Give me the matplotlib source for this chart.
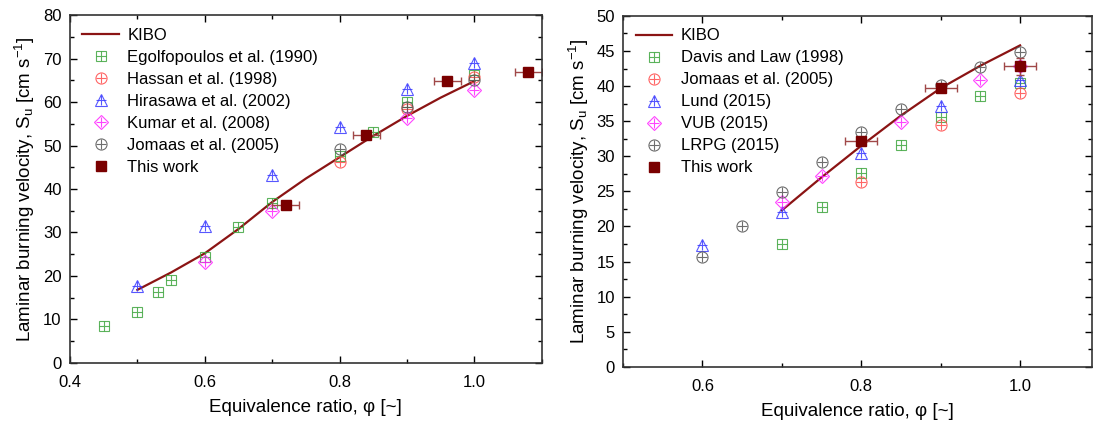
import matplotlib
matplotlib.use("Agg")
import matplotlib.pyplot as plt
from matplotlib.ticker import MultipleLocator
from matplotlib.legend_handler import HandlerTuple

plt.rcParams['font.family'] = ['Liberation Sans', 'DejaVu Sans']
plt.rcParams['mathtext.fontset'] = 'custom'
plt.rcParams['mathtext.rm'] = 'Liberation Sans'
plt.rcParams['mathtext.it'] = 'Liberation Sans'

# ---- left panel data ----
kibo_l_x = [0.50, 0.55, 0.60, 0.65, 0.70, 0.75, 0.80, 0.85, 0.90, 0.95, 1.00]
kibo_l_y = [16.8, 20.8, 25.2, 30.8, 37.0, 42.4, 47.3, 52.2, 56.8, 61.0, 64.8]

egol_x = [0.45, 0.50, 0.53, 0.55, 0.60, 0.65, 0.70, 0.80, 0.85, 0.90, 1.00]
egol_y = [8.5, 11.8, 16.4, 19.1, 24.3, 31.3, 36.7, 47.7, 53.2, 60.0, 66.2]
hassan_x = [0.80, 0.90, 1.00]
hassan_y = [46.2, 58.3, 65.8]
hira_x = [0.50, 0.60, 0.70, 0.80, 0.90, 1.00]
hira_y = [17.7, 31.5, 43.2, 54.3, 62.9, 69.0]
kumar_x = [0.60, 0.70, 0.90, 1.00]
kumar_y = [23.1, 35.0, 56.4, 62.8]
jomaas_l_x = [0.80, 0.90, 1.00]
jomaas_l_y = [49.1, 58.8, 65.0]
work_l_x = [0.72, 0.84, 0.96, 1.08]
work_l_y = [36.4, 52.5, 64.8, 66.8]
work_l_xerr = [0.02, 0.02, 0.02, 0.02]

# ---- right panel data ----
kibo_r_x = [0.70, 0.75, 0.80, 0.85, 0.90, 0.95, 1.00]
kibo_r_y = [22.3, 27.0, 31.5, 35.8, 39.7, 42.9, 45.8]

davis_x = [0.70, 0.75, 0.80, 0.85, 0.90, 0.95, 1.00]
davis_y = [17.5, 22.8, 27.6, 31.6, 35.6, 38.6, 40.4]
jomaas_r_x = [0.80, 0.90, 1.00]
jomaas_r_y = [26.4, 34.5, 39.0]
lund_x = [0.60, 0.70, 0.80, 0.90, 1.00]
lund_y = [17.3, 22.0, 30.4, 37.1, 40.9]
vub_x = [0.70, 0.75, 0.85, 0.95, 1.00]
vub_y = [23.5, 27.2, 34.9, 40.8, 42.8]
lrpg_x = [0.60, 0.65, 0.70, 0.75, 0.80, 0.85, 0.90, 0.95, 1.00]
lrpg_y = [15.7, 20.0, 24.9, 29.2, 33.5, 36.7, 40.2, 42.7, 44.9]
work_r_x = [0.80, 0.90, 1.00]
work_r_y = [32.2, 39.7, 42.8]
work_r_xerr = [0.02, 0.02, 0.02]
work_r_yerr = [0.0, 0.0, 1.2]

C_GREEN = '#3fa63f'
C_RED = '#ff4a4a'
C_BLUE = '#3a3aff'
C_MAG = '#ff22ff'
C_GRAY = '#555555'
C_DARK = '#7a0000'
C_LINE = '#8b1414'


def crossed(ax, x, y, marker, color, size=8):
    a, = ax.plot(x, y, linestyle='none', marker=marker, ms=size, mfc='none',
                 mec=color, mew=0.8, alpha=0.85)
    b, = ax.plot(x, y, linestyle='none', marker='+', ms=size * 0.95,
                 mec=color, mew=0.8, alpha=0.85)
    return (a, b)


def style(ax):
    ax.tick_params(which='both', direction='in', top=True, right=True,
                   labelsize=12)
    ax.tick_params(axis='x', which='major', pad=9)
    ax.tick_params(axis='y', which='major', pad=6)
    ax.tick_params(which='major', length=5, width=1)
    ax.tick_params(which='minor', length=3, width=1)
    for s in ax.spines.values():
        s.set_linewidth(1.2)
        s.set_color('#333333')
    ax.set_xlabel('Equivalence ratio, φ [~]', fontsize=13.5, labelpad=6)
    ax.set_ylabel('Laminar burning velocity, S$_\\mathrm{u}$ [cm s$^{-1}$]',
                  fontsize=13.5, labelpad=4)


fig = plt.figure(figsize=(10.97, 4.30), dpi=100)
ax1 = fig.add_axes([0.0638, 0.156, 0.430, 0.809])
ax2 = fig.add_axes([0.568, 0.147, 0.427, 0.816])

leg_kw = dict(handler_map={tuple: HandlerTuple(ndivide=1)},
              loc='upper left', frameon=False, fontsize=12, handlelength=2.2,
              handletextpad=0.5, labelspacing=0.42, borderaxespad=0.35)

# left
l1, = ax1.plot(kibo_l_x, kibo_l_y, color=C_LINE, lw=1.6)
h_eg = crossed(ax1, egol_x, egol_y, 's', C_GREEN, 7)
h_ha = crossed(ax1, hassan_x, hassan_y, 'o', C_RED)
h_hi = crossed(ax1, hira_x, hira_y, '^', C_BLUE)
h_ku = crossed(ax1, kumar_x, kumar_y, 'D', C_MAG, 7)
h_jo = crossed(ax1, jomaas_l_x, jomaas_l_y, 'o', C_GRAY)
ax1.errorbar(work_l_x, work_l_y, xerr=work_l_xerr, fmt='none', ecolor='#a04848',
             elinewidth=1, capsize=3)
h_w, = ax1.plot(work_l_x, work_l_y, linestyle='none', marker='s', ms=7,
                color=C_DARK)
ax1.set_xlim(0.4, 1.1)
ax1.set_ylim(0, 80)
ax1.set_xticks([0.4, 0.6, 0.8, 1.0])
ax1.xaxis.set_minor_locator(MultipleLocator(0.1))
ax1.yaxis.set_major_locator(MultipleLocator(10))
ax1.yaxis.set_minor_locator(MultipleLocator(5))
style(ax1)
ax1.legend([l1, h_eg, h_ha, h_hi, h_ku, h_jo, h_w],
           ['KIBO', 'Egolfopoulos et al. (1990)', 'Hassan et al. (1998)',
            'Hirasawa et al. (2002)', 'Kumar et al. (2008)',
            'Jomaas et al. (2005)', 'This work'], **leg_kw)

# right
l2, = ax2.plot(kibo_r_x, kibo_r_y, color=C_LINE, lw=1.6)
g_da = crossed(ax2, davis_x, davis_y, 's', C_GREEN, 7)
g_jo = crossed(ax2, jomaas_r_x, jomaas_r_y, 'o', C_RED)
g_lu = crossed(ax2, lund_x, lund_y, '^', C_BLUE)
g_vu = crossed(ax2, vub_x, vub_y, 'D', C_MAG, 7)
g_lr = crossed(ax2, lrpg_x, lrpg_y, 'o', C_GRAY)
ax2.errorbar(work_r_x, work_r_y, xerr=work_r_xerr, yerr=work_r_yerr, fmt='none',
             ecolor='#a04848', elinewidth=1, capsize=3)
g_w, = ax2.plot(work_r_x, work_r_y, linestyle='none', marker='s', ms=7,
                color=C_DARK)
ax2.set_xlim(0.5, 1.09)
ax2.set_ylim(0, 50)
ax2.set_xticks([0.6, 0.8, 1.0])
ax2.xaxis.set_minor_locator(MultipleLocator(0.1))
ax2.yaxis.set_major_locator(MultipleLocator(5))
ax2.yaxis.set_minor_locator(MultipleLocator(2.5))
style(ax2)
ax2.legend([l2, g_da, g_jo, g_lu, g_vu, g_lr, g_w],
           ['KIBO', 'Davis and Law (1998)', 'Jomaas et al. (2005)',
            'Lund (2015)', 'VUB (2015)', 'LRPG (2015)', 'This work'], **leg_kw)

fig.savefig('out.png', dpi=100)
